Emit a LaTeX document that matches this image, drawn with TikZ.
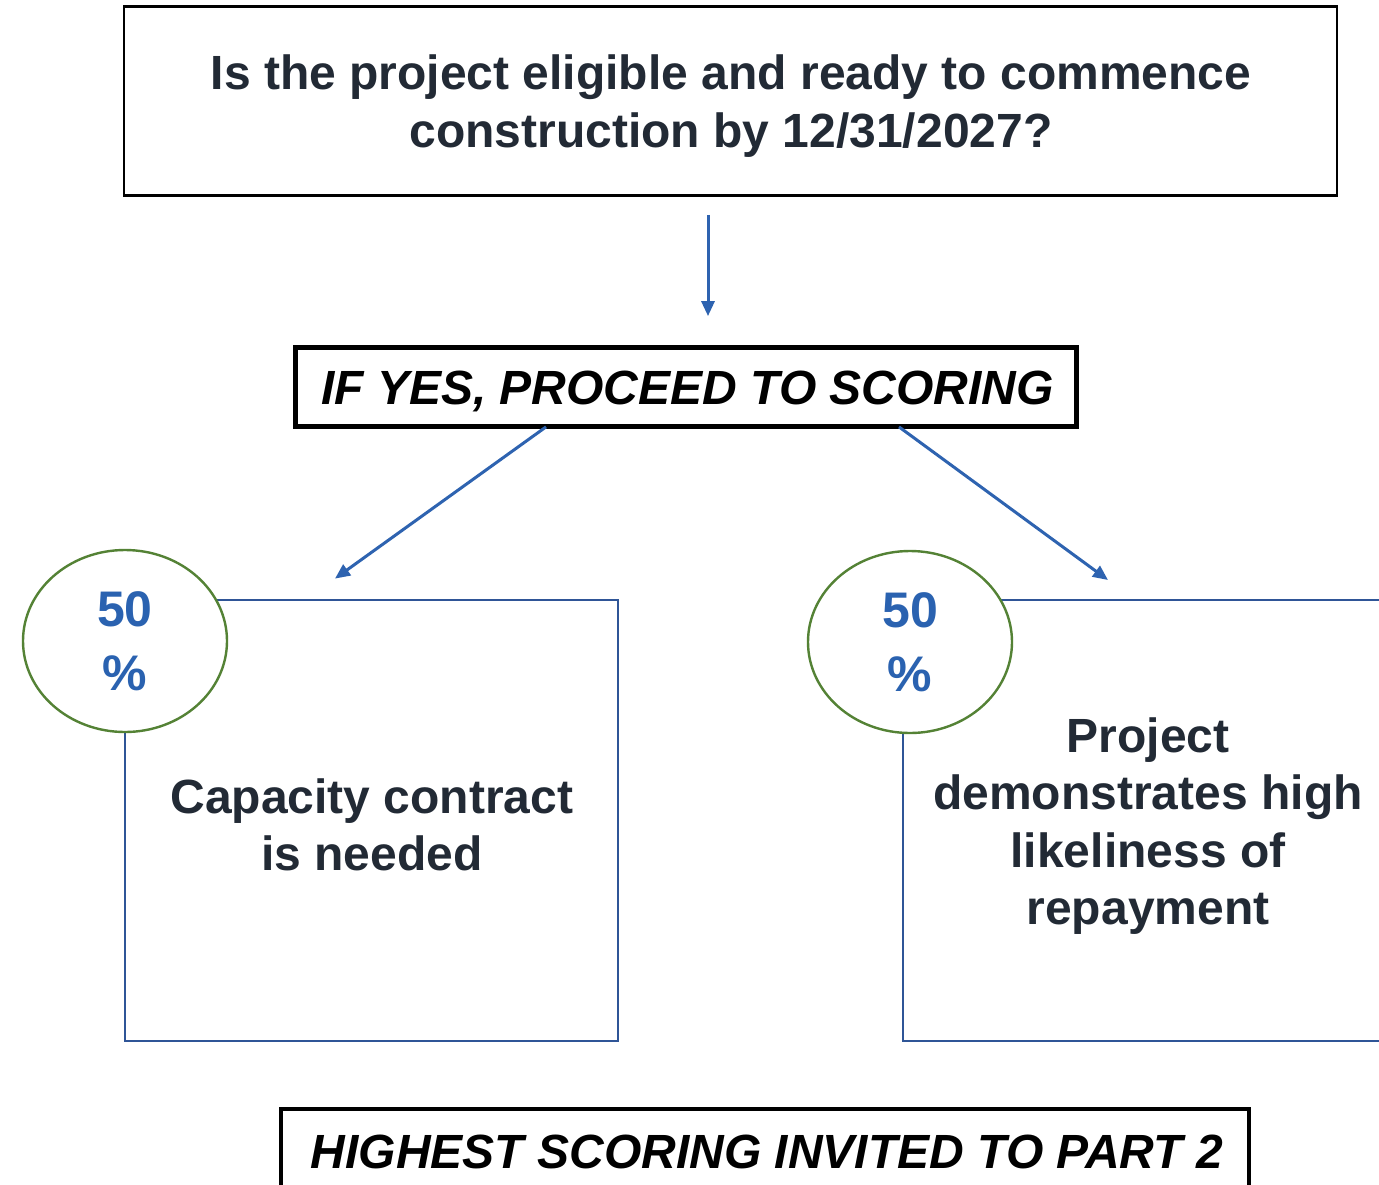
\documentclass[tikz,border=0pt]{standalone}
\usepackage{fontspec}
\setmainfont{Liberation Sans}
\usetikzlibrary{arrows.meta,shapes.geometric}
\definecolor{navytext}{HTML}{222A35}
\definecolor{boxblue}{HTML}{2F5597}
\definecolor{arrowblue}{HTML}{2E63B0}
\definecolor{pctblue}{HTML}{2A62B0}
\definecolor{circgreen}{HTML}{548235}
\begin{document}
\begin{tikzpicture}[x=1pt,y=-1pt,
  thinbox/.style={draw=black, line width=2.5pt, inner sep=0pt},
  thickbox/.style={draw=black, line width=4.8pt, inner sep=0pt},
  bluebox/.style={draw=boxblue, line width=2.8pt, inner sep=0pt},
  pct/.style={ellipse, draw=circgreen, fill=white, line width=2.4pt, minimum width=204pt, minimum height=182pt, inner sep=0pt,
     align=center, text=pctblue, font=\fontsize{50}{64}\selectfont\bfseries},
  bodytext/.style={align=center, text=navytext, font=\fontsize{48}{57.5}\selectfont\bfseries},
  caps/.style={align=center, text=black, font=\fontsize{48}{57.5}\selectfont\bfseries\itshape},
  arr/.style={draw=arrowblue, line width=3pt, -{Triangle[length=15pt,width=13pt]}}
]
\useasboundingbox (0,0) rectangle (1379,1184);
\clip (0,0) rectangle (1379,1184);
\fill[white] (0,0) rectangle (1379,1184);

% top question
\node[thinbox, minimum width=1213pt, minimum height=189pt] (q) at (730.5,101) {};
\node[bodytext] (qtext) at (731,106) {Is the project eligible and ready to commence\\construction by 12/31/2027?};

% if yes
\node[thickbox, minimum width=781.5pt, minimum height=79pt] (ifyes) at (686,387) {};
\node[caps] (ifyestext) at (687.5,391) {IF YES, PROCEED TO SCORING};

% boxes
\node[bluebox, minimum width=493pt, minimum height=441pt] (lbox) at (371.5,820.5) {};
\node[bluebox, minimum width=600pt, minimum height=441pt] (rbox) at (1203,820.5) {};
\node[bodytext] (ltext) at (372,825) {Capacity contract\\is needed};
\node[bodytext] (rtext) at (1148,826) {Project\\demonstrates high\\likeliness of\\repayment};

% circles
\node[pct] (lc) at (125,641) {50\\\%};
\node[pct] (rc) at (910,642) {50\\\%};

% bottom
\node[thickbox, minimum width=968pt, minimum height=82pt] (final) at (765,1150) {};
\node[caps] (finaltext) at (767,1152) {HIGHEST SCORING INVITED TO PART 2};

% arrows
\coordinate (rtgt) at (1108,580);
\draw[arr] ([xshift=-22.5pt,yshift=-18pt]q.south) -- ([xshift=22pt,yshift=29pt]ifyes.north);
\draw[arr] ([xshift=-140pt,yshift=2pt]ifyes.south) -- ([xshift=-36.5pt,yshift=20pt]lbox.north);
\draw[arr] ([xshift=213pt,yshift=2pt]ifyes.south) -- (rtgt);
\end{tikzpicture}
\end{document}
